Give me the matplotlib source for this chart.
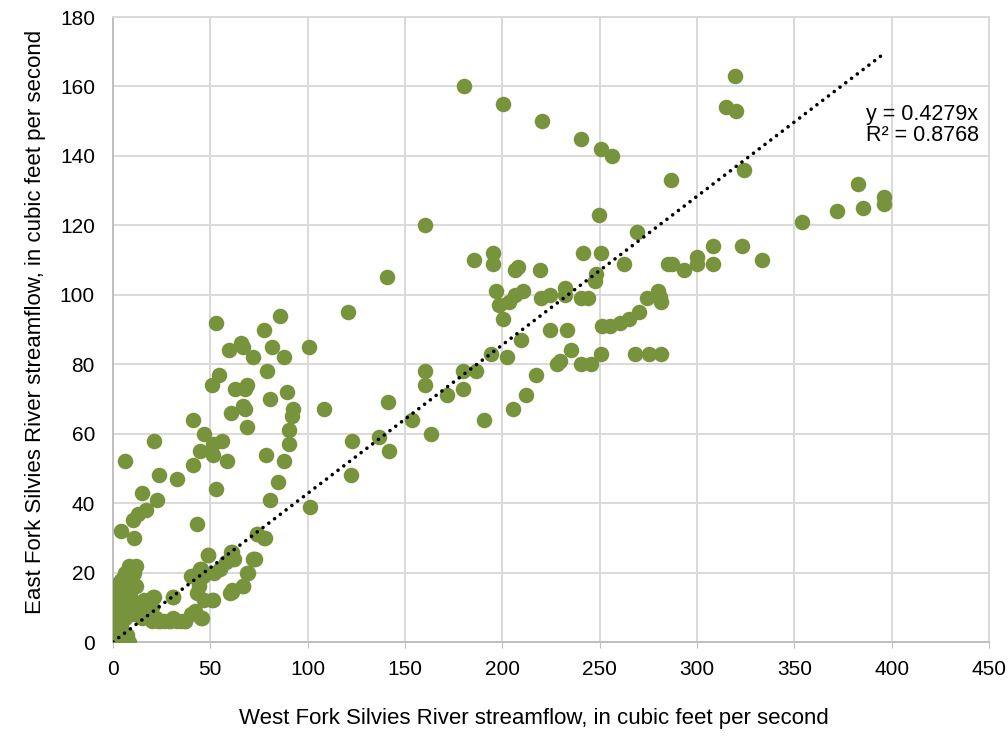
import matplotlib
matplotlib.use("Agg")
import matplotlib.pyplot as plt
import numpy as np

plt.rcParams['font.family'] = ['Liberation Sans', 'DejaVu Sans']

# West Fork (x) vs East Fork (y) streamflow, cfs
west = [
    # dense cluster near the origin
    0, 0, 0, 0, 1, 1, 1, 2, 2, 2, 3, 3, 3, 4, 4, 4, 5, 5, 5, 6, 6, 6, 7, 7, 8, 8, 9, 9,
    10, 10, 11, 11, 12, 12, 13, 14, 15, 16, 4, 6, 8, 3,
    18, 20, 22, 24, 26, 29, 31, 33, 35, 37, 40, 42, 45, 21, 31, 20,
    40, 41, 43, 45, 46, 44, 47, 51, 52, 55, 58, 60, 61, 61, 62, 67, 69, 73, 72, 74, 78, 49,
    # upper-left group
    52.7, 85.8, 77.7, 100.5, 59.7, 65.9, 67, 81.7, 71.7, 87.7, 78.9, 54.5, 50.8, 62.7,
    67.8, 69, 80.8, 89.5, 92.6, 91.8, 108.4, 60.6, 66.9, 67.8, 68.8, 90.6, 90.6, 40.9,
    46.7, 21.1, 51.5, 55.8, 44.7, 51.2, 58.7, 78.7, 87.7, 6, 40.9, 23.8, 32.7, 84.7,
    14.9, 22.8, 52.7, 80.8, 16.9, 13, 10.1, 3.9, 10.8, 42.9, 73.8, 77.7, 48.9, 60.6,
    61.8, 72.6, 69.5, 66.9, 61, 41.2, 44.7, 46.4, 31, 20.7, 51.5, 45.5, 37, 29.3, 23.3,
    # middle group
    180.4, 200.5, 220.5, 240.4, 250.5, 256.3, 286.4, 249.5, 160.4, 269.3, 241.2, 250.5,
    195.3, 185.4, 195.3, 262.4, 284.9, 287, 293.3, 140.5, 208.2, 206.5, 219.4, 248.1,
    247.6, 196.7, 210.7, 206.5, 203.5, 198.4, 220.1, 224.4, 232.3, 232.3, 240.2, 244.1,
    200.5, 224.4, 233.3, 209.7, 194.3, 202.2, 235.4, 229.6, 227.9, 240.2, 245.3, 250.5,
    268.3, 275.1, 281.4, 251.2, 255.3, 260.4, 265.2, 270.3, 274.1, 280.2, 281, 281.3,
    160.4, 160.4, 179.6, 186.4, 179.6, 171.4, 217.3, 212.4, 205.6, 190.6, 141.4, 153.7,
    163.5, 136.8, 122.6, 120.7, 142, 122, 101,
    # high flows
    319.3, 314.8, 320, 324.1, 382.8, 396, 396, 385, 371.9, 354, 300.1, 300.1, 308.3,
    308.3, 323.2, 333.3,
]
east = [
    0, 2, 4, 15, 1, 6, 10, 0, 8, 12, 3, 14, 17, 5, 9, 18, 0, 11, 16, 7, 20, 13, 2, 19,
    10, 22, 15, 21, 18, 12, 20, 8, 22, 16, 10, 9, 7, 12, 1, 0, 0, 6,
    8, 6, 7, 6, 6, 6, 7, 6, 6, 6, 8, 9, 7, 13, 13, 10,
    19, 19, 14, 21, 19, 16, 12, 12, 20, 21, 23, 14, 15, 26, 24, 16, 20, 24, 24, 31, 30, 25,
    92, 94, 90, 85, 84, 86, 85, 85, 82, 82, 78, 77, 74, 73,
    73, 74, 70, 72, 67, 65, 67, 66, 68, 67, 62, 61, 57, 64,
    60, 58, 57, 58, 55, 54, 52, 54, 52, 52, 51, 48, 47, 46,
    43, 41, 44, 41, 38, 37, 35, 32, 30, 34, 31, 30, 25, 26,
    24, 24, 20, 16, 14.5, 19, 21, 19, 13, 13, 12, 7, 6, 6, 6,
    160, 155, 150, 145, 142, 140, 133, 123, 120, 118, 112, 112,
    112, 110, 109, 109, 109, 109, 107, 105, 108, 107, 107, 106,
    104, 101, 101, 100, 98, 97, 99, 100, 102, 100, 99, 99,
    93, 90, 90, 87, 83, 82, 84, 81, 80, 80, 80, 83,
    83, 83, 83, 91, 91, 92, 93, 95, 99, 101, 99.5, 98,
    78, 74, 78, 78, 73, 71, 77, 71, 67, 64, 69, 64,
    60, 59, 58, 95, 55, 48, 39,
    163, 154, 153, 136, 132, 128.3, 126.1, 125, 124, 121, 111, 109, 114,
    109, 114, 110,
]

slope = 0.4279
r2 = 0.8768

fig = plt.figure(figsize=(10.08, 7.36), dpi=100)
ax = fig.add_axes([0.1121, 0.1277, 0.8691, 0.8492])

ax.scatter(west, east, s=125, color='#77933c', linewidths=0, zorder=3)

xl = np.array([0, max(west)])
ax.plot(xl, slope * xl, color='black', lw=2.6, linestyle=(0, (0.01, 2.0)),
        dash_capstyle='round', zorder=4)

fig.text(866 / 1008, 1 - 125 / 736, f"y = {slope}x\nR² = {r2}", fontsize=15.5,
         va='center', ha='left', linespacing=1.05)

ax.set_xlim(0, 450)
ax.set_ylim(0, 180)
ax.set_xticks(np.arange(0, 451, 50))
ax.set_yticks(np.arange(0, 181, 20))
ax.grid(True, color='#d9d9d9', lw=1.4)
ax.set_axisbelow(True)
for side in ['top', 'right']:
    ax.spines[side].set_color('#d9d9d9')
    ax.spines[side].set_linewidth(1.4)
for side in ['left', 'bottom']:
    ax.spines[side].set_color('#bfbfbf')
    ax.spines[side].set_linewidth(1.4)
ax.tick_params(axis='y', length=0, pad=13, labelsize=15)
ax.tick_params(axis='x', length=4, color='#bfbfbf', pad=9, labelsize=15)

ax.set_xlabel('West Fork Silvies River streamflow, in cubic feet per second', fontsize=16)
ax.set_ylabel('East Fork Silvies River streamflow, in cubic feet per second', fontsize=16)
ax.xaxis.set_label_coords(0.48, -0.105)
ax.yaxis.set_label_coords(-0.077, 0.512)

fig.savefig('out.png', dpi=100)
